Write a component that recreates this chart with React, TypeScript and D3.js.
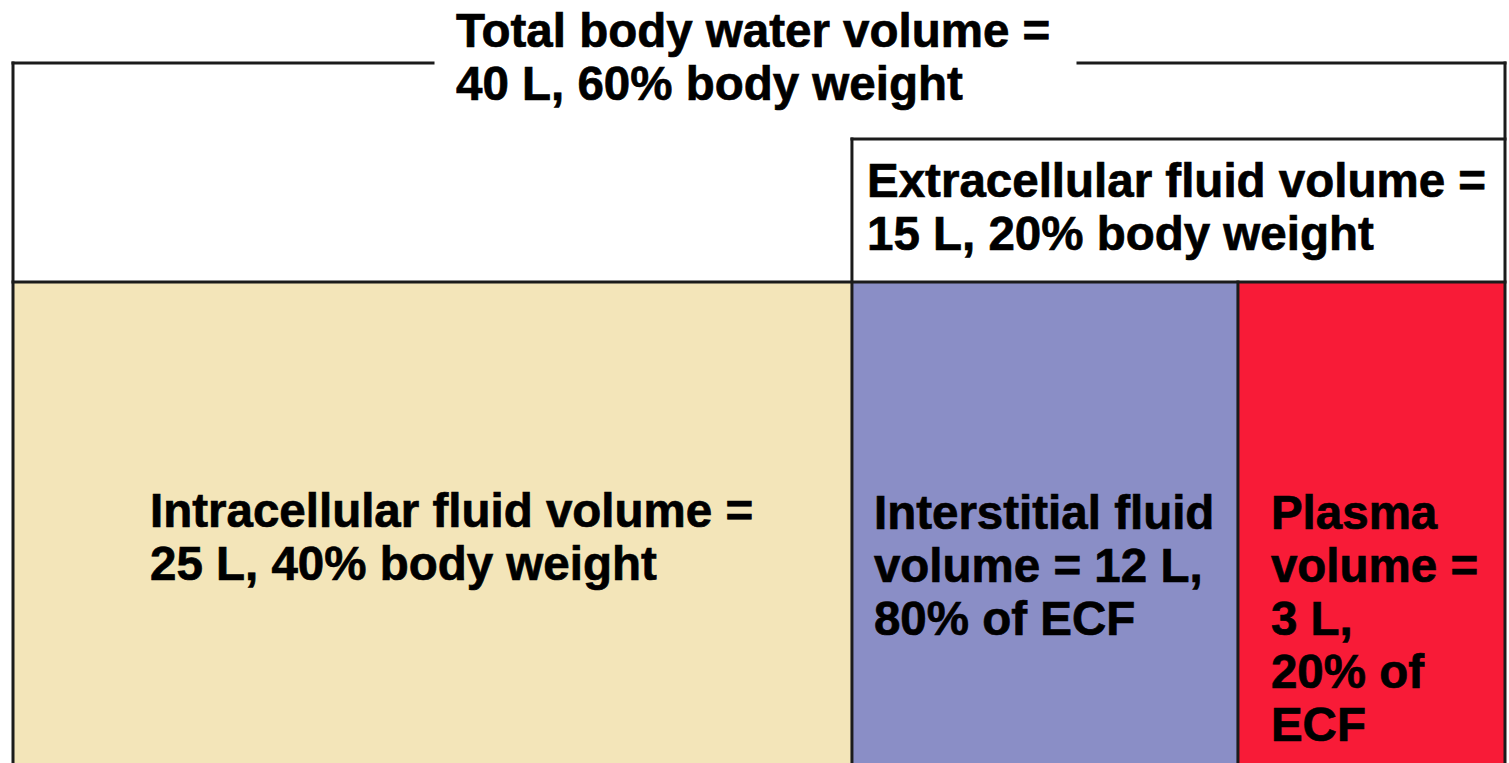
import React, { useEffect, useRef } from "react";
import { scaleLinear, select } from "d3";

// compartments, values in litres
const compartments = ["Intracellular", "Interstitial", "Plasma"];
const volumes = [25, 12, 3];
const fills = ["#F3E5B9", "#8A8EC6", "#F81B37"];

const compartmentLabels = [
  ["Intracellular fluid volume =", "25 L, 40% body weight"],
  ["Interstitial fluid", "volume = 12 L,", "80% of ECF"],
  ["Plasma", "volume =", "3 L,", "20% of", "ECF"],
];
const totalLabel = ["Total body water volume =", "40 L, 60% body weight"];
const ecfLabel = ["Extracellular fluid volume =", "15 L, 20% body weight"];

export default function App() {
  const ref = useRef<SVGSVGElement>(null);

  useEffect(() => {
    const width = 1509;
    const height = 763;
    const svg = select(ref.current);
    svg.selectAll("*").remove();

    // the drawing is schematic, not to scale: column edges as fractions of the box
    const x = scaleLinear().domain([0, 1]).range([13, 1505]);
    const edges = [0, 0.5623, 0.8210, 1];
    const yTop = 63, yEcf = 139, yCells = 282, yBottom = height + 10;
    const lineColor = "#1b1b1b";
    const font = "'Liberation Sans', Arial, sans-serif";
    const fontSize = 47.5;
    const lineGap = 53;

    svg.attr("width", width).attr("height", height);

    svg.append("rect").attr("width", width).attr("height", height).attr("fill", "#fff");

    svg.selectAll(".cell")
      .data(compartments)
      .enter()
      .append("rect")
      .attr("class", "cell")
      .attr("x", (d, i) => x(edges[i]))
      .attr("y", yCells)
      .attr("width", (d, i) => x(edges[i + 1]) - x(edges[i]))
      .attr("height", yBottom - yCells)
      .attr("fill", (d, i) => fills[i])
      .attr("data-volume", (d, i) => volumes[i]);

    const lines: Array<[number, number, number, number]> = [
      [x(0), yTop, 433, yTop],
      [1078, yTop, x(1), yTop],
      [x(0), yTop, x(0), yBottom],
      [x(1), yTop, x(1), yBottom],
      [x(edges[1]), yEcf, x(1), yEcf],
      [x(edges[1]), yEcf, x(edges[1]), yBottom],
      [x(0), yCells, x(1), yCells],
      [x(edges[2]), yCells, x(edges[2]), yBottom],
    ];

    svg.selectAll(".rule")
      .data(lines)
      .enter()
      .append("line")
      .attr("class", "rule")
      .attr("x1", d => d[0])
      .attr("y1", d => d[1])
      .attr("x2", d => d[2])
      .attr("y2", d => d[3])
      .attr("stroke", lineColor)
      .attr("stroke-width", 3)
      .attr("stroke-linecap", "square");

    const label = (rows: string[], tx: number, ty: number) => {
      const t = svg.append("text")
        .attr("x", tx)
        .attr("y", ty)
        .attr("font-family", font)
        .attr("font-weight", "bold")
        .attr("font-size", fontSize)
        .attr("fill", "#000")
        .attr("stroke", "#000")
        .attr("stroke-width", 0.7);
      rows.forEach((r, i) => {
        t.append("tspan").attr("x", tx).attr("y", ty + i * lineGap).text(r);
      });
    };

    label(totalLabel, 456, 47);
    label(ecfLabel, 867, 197);
    label(compartmentLabels[0], 150, 527);
    label(compartmentLabels[1], x(edges[1]) + 22, 529);
    label(compartmentLabels[2], x(edges[2]) + 33, 529);
  }, []);

  return (
    <svg ref={ref} style={{ position: "absolute", left: 0, top: 0, display: "block" }} />
  );
}
